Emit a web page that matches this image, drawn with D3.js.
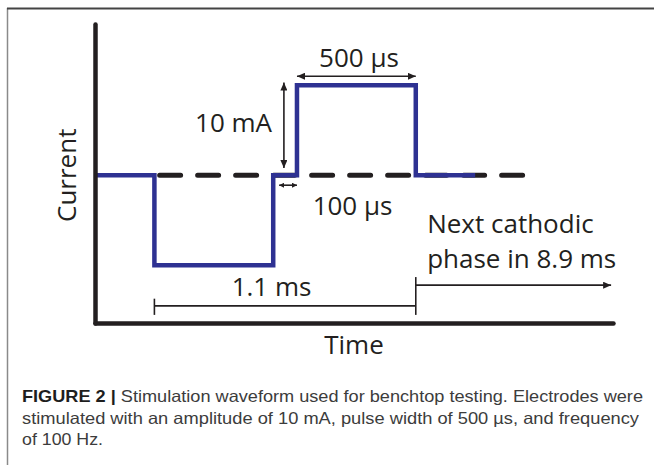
<!DOCTYPE html>
<html>
<head>
<meta charset="utf-8">
<script src="https://cdn.jsdelivr.net/npm/d3@7"></script>
<style>
  html, body { margin: 0; padding: 0; background: #fff; }
  svg { display: block; }
</style>
</head>
<body>
<svg id="chart" width="654" height="465"></svg>
<script>
// ---- data (time in µs, current in mA) ----
const timeDomain = [0, 2180];
const currentDomain = [-16.4, 16.8];
const waveTime    = [0, 250, 250, 750, 750, 850, 850, 1350, 1350, 1600];
const waveCurrent = [0,   0, -10, -10,   0,   0,  10,   10,    0,    0];
const baselineTime = [272, 1800];
const axisLabels = ["Time", "Current"];
const annotationLabels = ["500 µs", "10 mA", "100 µs", "1.1 ms", "Next cathodic", "phase in 8.9 ms"];
const captionBold = "FIGURE 2 |";
const captionLines = [
  " Stimulation waveform used for benchtop testing. Electrodes were",
  "stimulated with an amplitude of 10 mA, pulse width of 500 µs, and frequency",
  "of 100 Hz."
];

// ---- setup ----
const svg = d3.select("#chart");
const ink = "#231f20";
const blue = "#2e3192";
const font = "'Open Sans', sans-serif";

const x = d3.scaleLinear().domain(timeDomain).range([95, 613]);
const y = d3.scaleLinear().domain(currentDomain).range([323, 24]);

// frame
svg.append("line").attr("x1", 7.5).attr("x2", 7.5).attr("y1", 8).attr("y2", 465)
  .attr("stroke", "#8a8a8a").attr("stroke-width", 1.5);
svg.append("line").attr("x1", 7).attr("x2", 654).attr("y1", 8.5).attr("y2", 8.5)
  .attr("stroke", "#444").attr("stroke-width", 2);

// markers
const defs = svg.append("defs");
function marker(id, len, wid) {
  defs.append("marker").attr("id", id)
    .attr("viewBox", `0 0 ${len} ${wid}`).attr("refX", len).attr("refY", wid / 2)
    .attr("markerWidth", len).attr("markerHeight", wid)
    .attr("markerUnits", "userSpaceOnUse").attr("orient", "auto-start-reverse")
    .append("path").attr("d", `M0,0L${len},${wid / 2}L0,${wid}Z`).attr("fill", ink);
}
marker("ah", 8, 7);
marker("ahs", 5, 5);

// baseline dashed
svg.append("line")
  .attr("x1", x(baselineTime[0])).attr("x2", x(baselineTime[1]))
  .attr("y1", y(0)).attr("y2", y(0))
  .attr("stroke", ink).attr("stroke-width", 5)
  .attr("stroke-dasharray", "21,17").attr("stroke-linecap", "round");

// waveform
const wave = waveTime.map((t, i) => [t, waveCurrent[i]]);
svg.append("path").datum(wave)
  .attr("d", d3.line().x(d => x(d[0])).y(d => y(d[1])))
  .attr("fill", "none").attr("stroke", blue).attr("stroke-width", 4.5)
  .attr("stroke-linejoin", "miter");

// axes
const gx = svg.append("g").attr("transform", `translate(0,${y(currentDomain[0])})`)
  .call(d3.axisBottom(x).tickValues([]).tickSizeOuter(0));
const gy = svg.append("g").attr("transform", `translate(${x(timeDomain[0])},0)`)
  .call(d3.axisLeft(y).tickValues([]).tickSizeOuter(0));
[gx, gy].forEach(g => g.select(".domain").attr("stroke", ink).attr("stroke-width", 4.5)
  .attr("stroke-linecap", "round"));

// arrows
function arrow(x1, y1, x2, y2, start, end, m) {
  const l = svg.append("line").attr("x1", x1).attr("y1", y1).attr("x2", x2).attr("y2", y2)
    .attr("stroke", ink).attr("stroke-width", 1.6);
  if (start) l.attr("marker-start", `url(#${m})`);
  if (end) l.attr("marker-end", `url(#${m})`);
}
// 500 µs
arrow(x(850), y(11.0), x(1350), y(11.0), true, true, "ah");
// 10 mA
arrow(x(795), y(10.3), x(795), y(0.8), true, true, "ah");
// 100 µs
arrow(x(775), y(-1.1), x(850), y(-1.1), true, true, "ahs");
// 1.1 ms bracket
arrow(x(250), y(-14.5), x(1350), y(-14.5), false, false);
arrow(x(250), y(-13.7), x(250), y(-15.5), false, false);
arrow(x(1350), y(-11.3), x(1350), y(-15.5), false, false);
// next phase arrow
arrow(x(1350), y(-12.2), x(2172), y(-12.2), false, true, "ah");

// text
function label(txt, px, py, anchor) {
  return svg.append("text").attr("x", px).attr("y", py).attr("text-anchor", anchor || "start")
    .attr("font-family", font).attr("font-size", 26).attr("fill", ink).text(txt);
}
label(annotationLabels[0], x(1111), y(12.0), "middle");
label(annotationLabels[1], x(745), y(4.8), "end");
label(annotationLabels[2], x(916), y(-4.4), "start");
label(annotationLabels[3], x(743), y(-13.4), "middle");
label(annotationLabels[4], x(1398), y(-6.4), "start");
label(annotationLabels[5], x(1398), y(-10.3), "start");

label(axisLabels[0], x(1090), 354, "middle");
svg.append("text").attr("transform", `translate(76,${y(0)}) rotate(-90)`)
  .attr("text-anchor", "middle").attr("font-family", font).attr("font-size", 26)
  .attr("fill", ink).text(axisLabels[1]);

// caption
const cap = svg.append("g").attr("font-family", "'Liberation Sans', Arial, sans-serif")
  .attr("font-size", 16.5).attr("fill", "#3c3c3c");
const t1 = cap.append("text").attr("x", 22).attr("y", 402)
  .attr("textLength", 621).attr("lengthAdjust", "spacingAndGlyphs");
t1.append("tspan").attr("font-weight", "bold").attr("fill", "#1e1e1e").text(captionBold);
t1.append("tspan").text(captionLines[0]);
cap.append("text").attr("x", 22).attr("y", 423.5)
  .attr("textLength", 617).attr("lengthAdjust", "spacingAndGlyphs").text(captionLines[1]);
cap.append("text").attr("x", 22).attr("y", 445).attr("textLength", 81)
  .attr("lengthAdjust", "spacingAndGlyphs").text(captionLines[2]);
</script>
</body>
</html>
